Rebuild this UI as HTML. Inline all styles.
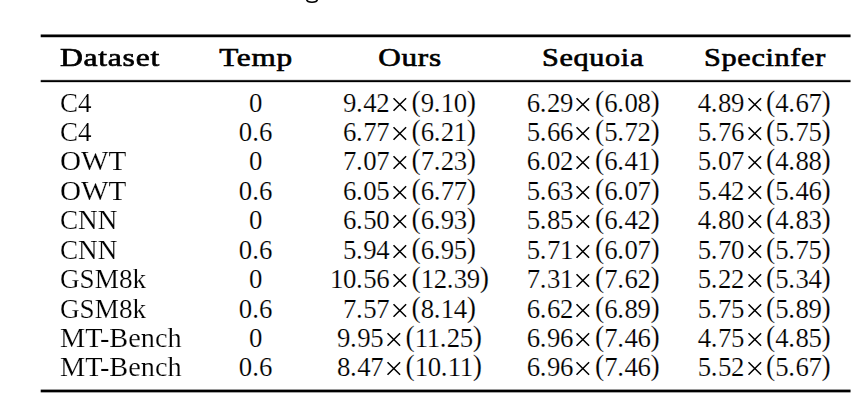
<!DOCTYPE html>
<html><head><meta charset="utf-8"><style>
html,body{margin:0;padding:0;background:#fff;width:865px;height:407px;overflow:hidden;position:relative}
div{position:absolute;white-space:nowrap;color:#000}
.b{font-family:"Liberation Serif",serif;font-size:26.8px;line-height:26.8px;-webkit-text-stroke:0.18px #fff}
.h{font-family:"Liberation Serif",serif;font-weight:normal;-webkit-text-stroke:0.65px #000;letter-spacing:0.6px;font-size:26.2px;line-height:26.2px}
.l{transform-origin:0 0}
.n{letter-spacing:-0.4px}
.p{font-size:27.7px;line-height:0;display:inline-block;transform:translateY(-1.05px) scaleY(1.024);letter-spacing:0}
.d{margin-right:0.9px}
svg.x{display:inline-block;vertical-align:0;margin:0}
.rule{position:absolute;left:40px;width:811px;-webkit-mask-image:linear-gradient(to right,rgba(0,0,0,.3) 0 1px,#000 1px 810px,rgba(0,0,0,.55) 810px)}
</style></head><body>
<div class="rule" style="top:34px;height:4px;background:linear-gradient(#7a7a7a 0 1px,#000 1px 3px,#c4c4c4 3px 4px)"></div>
<div class="rule" style="top:79px;height:4px;background:linear-gradient(#e4e4e4 0 1px,#2a2a2a 1px 2px,#000 2px 3px,#d8d8d8 3px 4px)"></div>
<div class="rule" style="top:389px;height:4px;background:linear-gradient(#9a9a9a 0 1px,#000 1px 3px,#a4a4a4 3px 4px)"></div>
<svg style="position:absolute;left:0;top:0" width="865" height="10"><path d="M306.7 -0.3 Q307.0 2.2 312 2.2 Q317.0 2.2 317.3 -0.3" fill="none" stroke="#000" stroke-width="1.6"/></svg>
<div class="h l" style="left:59.50px;top:45.04px;transform:scaleX(1.208)">Dataset</div>
<div class="h" style="left:255.50px;top:45.04px;transform:translateX(-50%) scaleX(1.192)">Temp</div>
<div class="h" style="left:409.80px;top:45.04px;transform:translateX(-50%) scaleX(1.19)">Ours</div>
<div class="h" style="left:593.40px;top:45.04px;transform:translateX(-50%) scaleX(1.152)">Sequoia</div>
<div class="h" style="left:764.90px;top:45.04px;transform:translateX(-50%) scaleX(1.153)">Specinfer</div>
<div class="b l" style="left:59.60px;top:89.55px;transform:scaleX(1.007)">C4</div>
<div class="b" style="left:255.60px;top:89.55px;transform:translateX(-50%)">0</div>
<div class="b" style="left:409.60px;top:89.55px;transform:translateX(-50%)"><span class="n">9<span class="d">.</span>42</span><svg class="x" width="22.1" height="15" viewBox="0 0 22.1 15"><path d="M4.0 1.2L16.6 13.8M16.6 1.2L4.0 13.8" stroke="#000" stroke-width="1.5" fill="none"/></svg><span class="n"><span class="p">(</span>9<span class="d">.</span>10<span class="p">)</span></span></div>
<div class="b" style="left:593.20px;top:89.55px;transform:translateX(-50%)"><span class="n">6<span class="d">.</span>29</span><svg class="x" width="22.1" height="15" viewBox="0 0 22.1 15"><path d="M4.0 1.2L16.6 13.8M16.6 1.2L4.0 13.8" stroke="#000" stroke-width="1.5" fill="none"/></svg><span class="n"><span class="p">(</span>6<span class="d">.</span>08<span class="p">)</span></span></div>
<div class="b" style="left:764.30px;top:89.55px;transform:translateX(-50%)"><span class="n">4<span class="d">.</span>89</span><svg class="x" width="22.1" height="15" viewBox="0 0 22.1 15"><path d="M4.0 1.2L16.6 13.8M16.6 1.2L4.0 13.8" stroke="#000" stroke-width="1.5" fill="none"/></svg><span class="n"><span class="p">(</span>4<span class="d">.</span>67<span class="p">)</span></span></div>
<div class="b l" style="left:59.60px;top:118.99px;transform:scaleX(1.007)">C4</div>
<div class="b" style="left:255.60px;top:118.99px;transform:translateX(-50%)">0.6</div>
<div class="b" style="left:409.60px;top:118.99px;transform:translateX(-50%)"><span class="n">6<span class="d">.</span>77</span><svg class="x" width="22.1" height="15" viewBox="0 0 22.1 15"><path d="M4.0 1.2L16.6 13.8M16.6 1.2L4.0 13.8" stroke="#000" stroke-width="1.5" fill="none"/></svg><span class="n"><span class="p">(</span>6<span class="d">.</span>21<span class="p">)</span></span></div>
<div class="b" style="left:593.20px;top:118.99px;transform:translateX(-50%)"><span class="n">5<span class="d">.</span>66</span><svg class="x" width="22.1" height="15" viewBox="0 0 22.1 15"><path d="M4.0 1.2L16.6 13.8M16.6 1.2L4.0 13.8" stroke="#000" stroke-width="1.5" fill="none"/></svg><span class="n"><span class="p">(</span>5<span class="d">.</span>72<span class="p">)</span></span></div>
<div class="b" style="left:764.30px;top:118.99px;transform:translateX(-50%)"><span class="n">5<span class="d">.</span>76</span><svg class="x" width="22.1" height="15" viewBox="0 0 22.1 15"><path d="M4.0 1.2L16.6 13.8M16.6 1.2L4.0 13.8" stroke="#000" stroke-width="1.5" fill="none"/></svg><span class="n"><span class="p">(</span>5<span class="d">.</span>75<span class="p">)</span></span></div>
<div class="b l" style="left:59.60px;top:148.43px;transform:scaleX(1.089)">OWT</div>
<div class="b" style="left:255.60px;top:148.43px;transform:translateX(-50%)">0</div>
<div class="b" style="left:409.60px;top:148.43px;transform:translateX(-50%)"><span class="n">7<span class="d">.</span>07</span><svg class="x" width="22.1" height="15" viewBox="0 0 22.1 15"><path d="M4.0 1.2L16.6 13.8M16.6 1.2L4.0 13.8" stroke="#000" stroke-width="1.5" fill="none"/></svg><span class="n"><span class="p">(</span>7<span class="d">.</span>23<span class="p">)</span></span></div>
<div class="b" style="left:593.20px;top:148.43px;transform:translateX(-50%)"><span class="n">6<span class="d">.</span>02</span><svg class="x" width="22.1" height="15" viewBox="0 0 22.1 15"><path d="M4.0 1.2L16.6 13.8M16.6 1.2L4.0 13.8" stroke="#000" stroke-width="1.5" fill="none"/></svg><span class="n"><span class="p">(</span>6<span class="d">.</span>41<span class="p">)</span></span></div>
<div class="b" style="left:764.30px;top:148.43px;transform:translateX(-50%)"><span class="n">5<span class="d">.</span>07</span><svg class="x" width="22.1" height="15" viewBox="0 0 22.1 15"><path d="M4.0 1.2L16.6 13.8M16.6 1.2L4.0 13.8" stroke="#000" stroke-width="1.5" fill="none"/></svg><span class="n"><span class="p">(</span>4<span class="d">.</span>88<span class="p">)</span></span></div>
<div class="b l" style="left:59.60px;top:177.86px;transform:scaleX(1.089)">OWT</div>
<div class="b" style="left:255.60px;top:177.86px;transform:translateX(-50%)">0.6</div>
<div class="b" style="left:409.60px;top:177.86px;transform:translateX(-50%)"><span class="n">6<span class="d">.</span>05</span><svg class="x" width="22.1" height="15" viewBox="0 0 22.1 15"><path d="M4.0 1.2L16.6 13.8M16.6 1.2L4.0 13.8" stroke="#000" stroke-width="1.5" fill="none"/></svg><span class="n"><span class="p">(</span>6<span class="d">.</span>77<span class="p">)</span></span></div>
<div class="b" style="left:593.20px;top:177.86px;transform:translateX(-50%)"><span class="n">5<span class="d">.</span>63</span><svg class="x" width="22.1" height="15" viewBox="0 0 22.1 15"><path d="M4.0 1.2L16.6 13.8M16.6 1.2L4.0 13.8" stroke="#000" stroke-width="1.5" fill="none"/></svg><span class="n"><span class="p">(</span>6<span class="d">.</span>07<span class="p">)</span></span></div>
<div class="b" style="left:764.30px;top:177.86px;transform:translateX(-50%)"><span class="n">5<span class="d">.</span>42</span><svg class="x" width="22.1" height="15" viewBox="0 0 22.1 15"><path d="M4.0 1.2L16.6 13.8M16.6 1.2L4.0 13.8" stroke="#000" stroke-width="1.5" fill="none"/></svg><span class="n"><span class="p">(</span>5<span class="d">.</span>46<span class="p">)</span></span></div>
<div class="b l" style="left:59.60px;top:207.30px;transform:scaleX(1.012)">CNN</div>
<div class="b" style="left:255.60px;top:207.30px;transform:translateX(-50%)">0</div>
<div class="b" style="left:409.60px;top:207.30px;transform:translateX(-50%)"><span class="n">6<span class="d">.</span>50</span><svg class="x" width="22.1" height="15" viewBox="0 0 22.1 15"><path d="M4.0 1.2L16.6 13.8M16.6 1.2L4.0 13.8" stroke="#000" stroke-width="1.5" fill="none"/></svg><span class="n"><span class="p">(</span>6<span class="d">.</span>93<span class="p">)</span></span></div>
<div class="b" style="left:593.20px;top:207.30px;transform:translateX(-50%)"><span class="n">5<span class="d">.</span>85</span><svg class="x" width="22.1" height="15" viewBox="0 0 22.1 15"><path d="M4.0 1.2L16.6 13.8M16.6 1.2L4.0 13.8" stroke="#000" stroke-width="1.5" fill="none"/></svg><span class="n"><span class="p">(</span>6<span class="d">.</span>42<span class="p">)</span></span></div>
<div class="b" style="left:764.30px;top:207.30px;transform:translateX(-50%)"><span class="n">4<span class="d">.</span>80</span><svg class="x" width="22.1" height="15" viewBox="0 0 22.1 15"><path d="M4.0 1.2L16.6 13.8M16.6 1.2L4.0 13.8" stroke="#000" stroke-width="1.5" fill="none"/></svg><span class="n"><span class="p">(</span>4<span class="d">.</span>83<span class="p">)</span></span></div>
<div class="b l" style="left:59.60px;top:236.73px;transform:scaleX(1.012)">CNN</div>
<div class="b" style="left:255.60px;top:236.73px;transform:translateX(-50%)">0.6</div>
<div class="b" style="left:409.60px;top:236.73px;transform:translateX(-50%)"><span class="n">5<span class="d">.</span>94</span><svg class="x" width="22.1" height="15" viewBox="0 0 22.1 15"><path d="M4.0 1.2L16.6 13.8M16.6 1.2L4.0 13.8" stroke="#000" stroke-width="1.5" fill="none"/></svg><span class="n"><span class="p">(</span>6<span class="d">.</span>95<span class="p">)</span></span></div>
<div class="b" style="left:593.20px;top:236.73px;transform:translateX(-50%)"><span class="n">5<span class="d">.</span>71</span><svg class="x" width="22.1" height="15" viewBox="0 0 22.1 15"><path d="M4.0 1.2L16.6 13.8M16.6 1.2L4.0 13.8" stroke="#000" stroke-width="1.5" fill="none"/></svg><span class="n"><span class="p">(</span>6<span class="d">.</span>07<span class="p">)</span></span></div>
<div class="b" style="left:764.30px;top:236.73px;transform:translateX(-50%)"><span class="n">5<span class="d">.</span>70</span><svg class="x" width="22.1" height="15" viewBox="0 0 22.1 15"><path d="M4.0 1.2L16.6 13.8M16.6 1.2L4.0 13.8" stroke="#000" stroke-width="1.5" fill="none"/></svg><span class="n"><span class="p">(</span>5<span class="d">.</span>75<span class="p">)</span></span></div>
<div class="b l" style="left:59.60px;top:266.17px;transform:scaleX(1.014)">GSM8k</div>
<div class="b" style="left:255.60px;top:266.17px;transform:translateX(-50%)">0</div>
<div class="b" style="left:409.60px;top:266.17px;transform:translateX(-50%)"><span class="n">10<span class="d">.</span>56</span><svg class="x" width="22.1" height="15" viewBox="0 0 22.1 15"><path d="M4.0 1.2L16.6 13.8M16.6 1.2L4.0 13.8" stroke="#000" stroke-width="1.5" fill="none"/></svg><span class="n"><span class="p">(</span>12<span class="d">.</span>39<span class="p">)</span></span></div>
<div class="b" style="left:593.20px;top:266.17px;transform:translateX(-50%)"><span class="n">7<span class="d">.</span>31</span><svg class="x" width="22.1" height="15" viewBox="0 0 22.1 15"><path d="M4.0 1.2L16.6 13.8M16.6 1.2L4.0 13.8" stroke="#000" stroke-width="1.5" fill="none"/></svg><span class="n"><span class="p">(</span>7<span class="d">.</span>62<span class="p">)</span></span></div>
<div class="b" style="left:764.30px;top:266.17px;transform:translateX(-50%)"><span class="n">5<span class="d">.</span>22</span><svg class="x" width="22.1" height="15" viewBox="0 0 22.1 15"><path d="M4.0 1.2L16.6 13.8M16.6 1.2L4.0 13.8" stroke="#000" stroke-width="1.5" fill="none"/></svg><span class="n"><span class="p">(</span>5<span class="d">.</span>34<span class="p">)</span></span></div>
<div class="b l" style="left:59.60px;top:295.61px;transform:scaleX(1.014)">GSM8k</div>
<div class="b" style="left:255.60px;top:295.61px;transform:translateX(-50%)">0.6</div>
<div class="b" style="left:409.60px;top:295.61px;transform:translateX(-50%)"><span class="n">7<span class="d">.</span>57</span><svg class="x" width="22.1" height="15" viewBox="0 0 22.1 15"><path d="M4.0 1.2L16.6 13.8M16.6 1.2L4.0 13.8" stroke="#000" stroke-width="1.5" fill="none"/></svg><span class="n"><span class="p">(</span>8<span class="d">.</span>14<span class="p">)</span></span></div>
<div class="b" style="left:593.20px;top:295.61px;transform:translateX(-50%)"><span class="n">6<span class="d">.</span>62</span><svg class="x" width="22.1" height="15" viewBox="0 0 22.1 15"><path d="M4.0 1.2L16.6 13.8M16.6 1.2L4.0 13.8" stroke="#000" stroke-width="1.5" fill="none"/></svg><span class="n"><span class="p">(</span>6<span class="d">.</span>89<span class="p">)</span></span></div>
<div class="b" style="left:764.30px;top:295.61px;transform:translateX(-50%)"><span class="n">5<span class="d">.</span>75</span><svg class="x" width="22.1" height="15" viewBox="0 0 22.1 15"><path d="M4.0 1.2L16.6 13.8M16.6 1.2L4.0 13.8" stroke="#000" stroke-width="1.5" fill="none"/></svg><span class="n"><span class="p">(</span>5<span class="d">.</span>89<span class="p">)</span></span></div>
<div class="b l" style="left:59.60px;top:325.04px;transform:scaleX(1.057)">MT-Bench</div>
<div class="b" style="left:255.60px;top:325.04px;transform:translateX(-50%)">0</div>
<div class="b" style="left:409.60px;top:325.04px;transform:translateX(-50%)"><span class="n">9<span class="d">.</span>95</span><svg class="x" width="22.1" height="15" viewBox="0 0 22.1 15"><path d="M4.0 1.2L16.6 13.8M16.6 1.2L4.0 13.8" stroke="#000" stroke-width="1.5" fill="none"/></svg><span class="n"><span class="p">(</span>11<span class="d">.</span>25<span class="p">)</span></span></div>
<div class="b" style="left:593.20px;top:325.04px;transform:translateX(-50%)"><span class="n">6<span class="d">.</span>96</span><svg class="x" width="22.1" height="15" viewBox="0 0 22.1 15"><path d="M4.0 1.2L16.6 13.8M16.6 1.2L4.0 13.8" stroke="#000" stroke-width="1.5" fill="none"/></svg><span class="n"><span class="p">(</span>7<span class="d">.</span>46<span class="p">)</span></span></div>
<div class="b" style="left:764.30px;top:325.04px;transform:translateX(-50%)"><span class="n">4<span class="d">.</span>75</span><svg class="x" width="22.1" height="15" viewBox="0 0 22.1 15"><path d="M4.0 1.2L16.6 13.8M16.6 1.2L4.0 13.8" stroke="#000" stroke-width="1.5" fill="none"/></svg><span class="n"><span class="p">(</span>4<span class="d">.</span>85<span class="p">)</span></span></div>
<div class="b l" style="left:59.60px;top:354.48px;transform:scaleX(1.057)">MT-Bench</div>
<div class="b" style="left:255.60px;top:354.48px;transform:translateX(-50%)">0.6</div>
<div class="b" style="left:409.60px;top:354.48px;transform:translateX(-50%)"><span class="n">8<span class="d">.</span>47</span><svg class="x" width="22.1" height="15" viewBox="0 0 22.1 15"><path d="M4.0 1.2L16.6 13.8M16.6 1.2L4.0 13.8" stroke="#000" stroke-width="1.5" fill="none"/></svg><span class="n"><span class="p">(</span>10<span class="d">.</span>11<span class="p">)</span></span></div>
<div class="b" style="left:593.20px;top:354.48px;transform:translateX(-50%)"><span class="n">6<span class="d">.</span>96</span><svg class="x" width="22.1" height="15" viewBox="0 0 22.1 15"><path d="M4.0 1.2L16.6 13.8M16.6 1.2L4.0 13.8" stroke="#000" stroke-width="1.5" fill="none"/></svg><span class="n"><span class="p">(</span>7<span class="d">.</span>46<span class="p">)</span></span></div>
<div class="b" style="left:764.30px;top:354.48px;transform:translateX(-50%)"><span class="n">5<span class="d">.</span>52</span><svg class="x" width="22.1" height="15" viewBox="0 0 22.1 15"><path d="M4.0 1.2L16.6 13.8M16.6 1.2L4.0 13.8" stroke="#000" stroke-width="1.5" fill="none"/></svg><span class="n"><span class="p">(</span>5<span class="d">.</span>67<span class="p">)</span></span></div>
</body></html>
